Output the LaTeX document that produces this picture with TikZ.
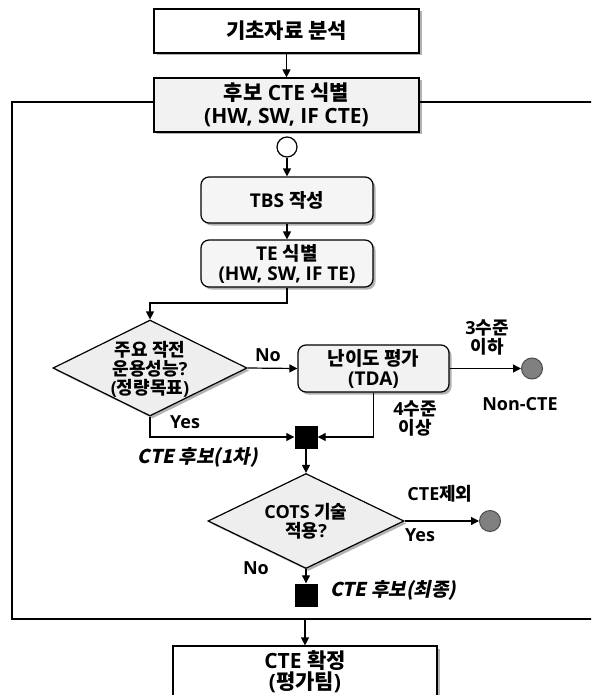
\documentclass[tikz,border=0pt]{standalone}
\usepackage{fontspec}
\setmainfont{Open Sans}
\newfontfamily\krfont{Noto Sans CJK KR}
\newfontfamily\kritfont{Noto Sans CJK KR}[FakeSlant=0.2]
\newcommand\KR[1]{{\krfont\bfseries #1}}
\usetikzlibrary{shapes.geometric,arrows.meta,shadows}
\definecolor{boxgray}{HTML}{F2F2F2}
\definecolor{rgray}{HTML}{F5F5F5}
\definecolor{dgray}{HTML}{EEEEEE}
\definecolor{dotgray}{HTML}{808080}
\tikzset{
  lw/.style={line width=1.2pt},
  shad/.style={drop shadow={shadow xshift=2.5pt,shadow yshift=-2.5pt,fill=black,opacity=0.3}},
  bigbox/.style={draw,lw,shad,align=center,inner sep=0pt,minimum width=265pt,
    font=\fontsize{21}{23}\selectfont\bfseries},
  rbox/.style={draw,lw,shad,rounded corners=8pt,fill=rgray,align=center,inner sep=0pt,
    minimum width=172pt,font=\fontsize{19}{20}\selectfont\bfseries},
  dshape/.style={diamond,draw,lw,shad,fill=dgray,inner sep=0pt},
  dtext/.style={align=center,inner sep=0pt,font=\fontsize{18}{19}\selectfont\bfseries},
  hollow/.style={circle,draw,lw,fill=white,minimum size=20pt,inner sep=0pt},
  gdot/.style={circle,draw=black!70,line width=1pt,fill=dotgray,minimum size=21pt,inner sep=0pt},
  sq/.style={rectangle,fill=black,minimum size=23pt,inner sep=0pt},
  lab/.style={align=center,inner sep=0pt,font=\fontsize{18}{19}\selectfont\bfseries},
  itlab/.style={inner sep=0pt,font=\kritfont\fontsize{19}{20}\selectfont\bfseries},
  arr/.style={lw,-{Triangle[length=8pt,width=8pt]}}
}
\begin{document}
\begin{tikzpicture}[x=1pt,y=-1pt]
\clip (0,0) rectangle (591,695);
\fill[white] (0,0) rectangle (591,695);
% frame
\coordinate (ftr) at (600,102);
\coordinate (ftl) at (12,102);
\coordinate (fbl) at (12,619);
\coordinate (fbr) at (600,619);
\coordinate (fb) at (305,619);
\draw[lw] (ftr) -- (ftl) -- (fbl) -- (fbr);
% boxes
\node[bigbox,fill=white,minimum height=44pt] (top) at (286.5,31) {\KR{기초자료 분석}};
\node[bigbox,fill=boxgray,minimum height=54pt] (cand) at (286.5,105) {\KR{후보} CTE \KR{식별}\\(HW, SW, IF CTE)};
\node[hollow] (c0) at (287,147) {};
\node[rbox,minimum height=46pt] (tbs) at (287,200) {TBS \KR{작성}};
\node[rbox,minimum height=47pt] (te) at (287,263.5) {TE \KR{식별}\\(HW, SW, IF TE)};
\coordinate (k1) at (287,303);
\node[dshape,minimum width=194pt,minimum height=96pt] (d1) at (150,368) {};
\node[dtext] (d1t) at (150,369) {\KR{주요 작전}\\\KR{운용성능}?\\(\KR{정량목표})};
\node[rbox,fill=boxgray,minimum width=151pt,minimum height=47pt] (tda) at (373.5,368.5) {\KR{난이도 평가}\\(TDA)};
\node[gdot] (ea) at (532,368.5) {};
\node[sq] (s1) at (306,437) {};
\node[dshape,minimum width=196pt,minimum height=95pt] (d2) at (306,521) {};
\node[dtext] (d2t) at (306,521.5) {COTS \KR{기술}\\\KR{적용}?};
\node[gdot] (eb) at (490,521) {};
\node[sq] (s2) at (306,595) {};
\node[bigbox,fill=white,minimum width=264pt,minimum height=64pt] (fin) at (305,678) {};
\node[dtext,font=\fontsize{21}{21}\selectfont\bfseries] (fint) at (305,671.5) {CTE \KR{확정}\\(\KR{평가팀})};
% connectors
\draw[arr] (top) -- (cand);
\draw[arr] (c0) -- (tbs);
\draw[arr] (tbs) -- (te);
\draw[arr] (te.south) -- (k1) -| (d1.north);
\draw[arr] (d1.east) -- (tda.west);
\draw[arr] (tda.east) -- (ea.west);
\draw[arr] (d1.south) |- (s1.west);
\draw[arr] (tda.south) |- (s1.east);
\draw[arr] (s1) -- (d2);
\draw[arr] (d2.east) -- (eb.west);
\draw[arr] (d2.south) -- (s2.north);
\draw[arr] (fb) -- (fin.north);
% labels
\node[lab] (no1) at (268,355) {No};
\node[lab] (l3) at (487,337.5) {3\KR{수준}\\\KR{이하}};
\node[lab] (ncte) at (520,404) {Non-CTE};
\node[lab] (yes1) at (185,422) {Yes};
\node[lab] (l4) at (415,418) {4\KR{수준}\\\KR{이상}};
\node[itlab] (ct1) at (198,457) {CTE 후보(1차)};
\node[lab] (cx) at (440,494) {CTE\KR{제외}};
\node[lab] (yes2) at (420,535) {Yes};
\node[lab] (no2) at (256,568) {No};
\node[itlab,anchor=west] (ct2) at (330,590) {CTE 후보(최종)};
\end{tikzpicture}
\end{document}
